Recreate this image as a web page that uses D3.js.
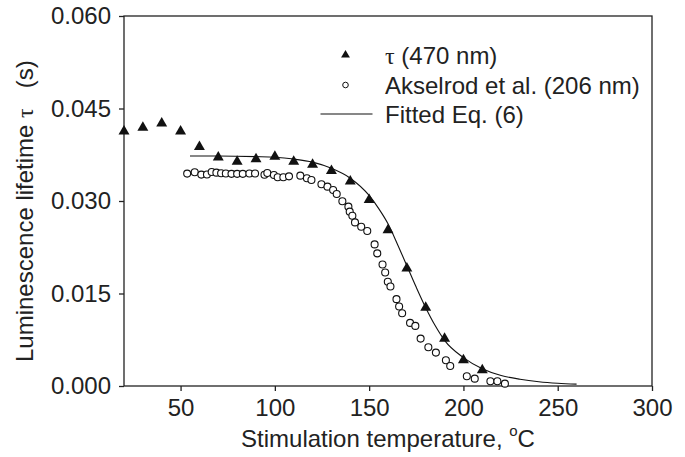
<!DOCTYPE html>
<html>
<head>
<meta charset="utf-8">
<script src="https://cdn.jsdelivr.net/npm/d3@7"></script>
<style>
  html, body { margin: 0; padding: 0; background: #fff; }
  svg { display: block; }
  text { font-family: "Liberation Sans", Arial, sans-serif; fill: #222; }
  .pre { white-space: pre; }
</style>
</head>
<body>
<svg id="chart" width="685" height="457"></svg>
<script>
// ---- data ----
const tempTau = [20, 30, 40, 50, 60, 70, 80, 90, 100, 110, 120, 130, 140, 150, 160, 170, 180, 190, 200, 210];
const tau470  = [0.0413, 0.0419, 0.0426, 0.0413, 0.0388, 0.0371, 0.0364, 0.0368, 0.0372, 0.0364, 0.0359, 0.0349, 0.0332, 0.0302, 0.0253, 0.0191, 0.0127, 0.0077, 0.0042, 0.0026];

const tempAks = [53.5, 57.5, 61, 64, 66.5, 69, 71.5, 74, 77, 80, 83, 86.5, 89.5, 94.5, 96, 99.5, 101.5, 104.5, 107.5, 113.5, 117,
                 119.4, 124.7, 127.9, 130.9, 132.8, 135.8, 139.0, 139.7, 141.1, 142.5, 145.8, 149.0, 152.9, 154.3, 157.1, 158.5,
                 159.9, 161.3, 164.5, 165.9, 167.5, 171.7, 174.5, 177.3, 181.4, 185.4, 190.7, 193.0, 201.8, 206.0, 214.3, 218.0, 222.0];
const tauAks  = [0.03444, 0.03466, 0.03428, 0.03430, 0.03470, 0.03460, 0.03450, 0.03445, 0.03440, 0.03440, 0.03440, 0.03445, 0.03445, 0.03425, 0.03455, 0.03422, 0.03384, 0.03384, 0.03400, 0.03411, 0.03368,
                 0.03341, 0.03271, 0.03233, 0.03179, 0.03114, 0.02995, 0.02908, 0.02827, 0.02762, 0.02653, 0.02583, 0.02513, 0.02296, 0.02150, 0.01971, 0.01841,
                 0.01690, 0.01614, 0.01408, 0.01289, 0.01180, 0.01023, 0.00975, 0.00769, 0.00628, 0.00542, 0.00417, 0.00325, 0.00157, 0.00119, 0.00076, 0.00076, 0.00038];

const tempFit = [55, 70, 90, 100, 110, 120, 130, 140, 150, 155, 160, 165, 170, 175, 180, 185, 190, 200, 210, 220, 230, 240, 250, 260];
const tauFit  = [0.0373, 0.0373, 0.0372, 0.0371, 0.0368, 0.0363, 0.0353, 0.0337, 0.0309, 0.0288, 0.0263, 0.0230, 0.0195, 0.0160, 0.0127, 0.0098, 0.0074, 0.0046, 0.0028, 0.0017, 0.0011, 0.0007, 0.00045, 0.0003];

const xTicks = [50, 100, 150, 200, 250, 300];
const yTicks = [0, 0.015, 0.030, 0.045, 0.060];
const legendLabels = ["(470 nm)", "Akselrod et al. (206 nm)", "Fitted Eq. (6)"];

// ---- layout ----
const svg = d3.select("#chart");
const L = 124, R = 652, T = 16, B = 386;
const x = d3.scaleLinear().domain([20, 300]).range([L, R]);
const y = d3.scaleLinear().domain([0, 0.060]).range([B, T]);
const FS = 24;
const SANS = '"Liberation Sans", Arial, sans-serif';
const SERIF = '"Liberation Serif", "Times New Roman", serif';

// frame
svg.append("rect").attr("x", L).attr("y", T).attr("width", R - L).attr("height", B - T)
  .attr("fill", "none").attr("stroke", "#222").attr("stroke-width", 1.3);

// axes
const xAxis = d3.axisBottom(x).tickValues(xTicks).tickSize(5).tickPadding(8).tickFormat(d3.format("d"));
const yAxis = d3.axisLeft(y).tickValues(yTicks).tickSize(5).tickPadding(8).tickFormat(d3.format(".3f"));
const gx = svg.append("g").attr("transform", `translate(0,${B})`).call(xAxis);
const gy = svg.append("g").attr("transform", `translate(${L},0)`).call(yAxis);
[gx, gy].forEach(g => {
  g.select(".domain").remove();
  g.selectAll(".tick line").attr("stroke", "#222").attr("stroke-width", 1.3);
  g.selectAll(".tick text").attr("font-size", FS).attr("fill", "#222").attr("font-family", SANS);
});

// fitted line
const line = d3.line().x((d, i) => x(tempFit[i])).y(d => y(d)).curve(d3.curveMonotoneX);
svg.append("path").datum(tauFit).attr("d", line).attr("fill", "none").attr("stroke", "#111").attr("stroke-width", 1.1);

// Akselrod circles
svg.append("g").selectAll("circle").data(tauAks).join("circle")
  .attr("cx", (d, i) => x(tempAks[i])).attr("cy", d => y(d)).attr("r", 3.5)
  .attr("fill", "#fff").attr("stroke", "#111").attr("stroke-width", 1.1);

// triangles
const tri = d3.symbol().type(d3.symbolTriangle).size(52);
svg.append("g").selectAll("path").data(tau470).join("path")
  .attr("d", tri).attr("transform", (d, i) => `translate(${x(tempTau[i])},${y(d)})`)
  .attr("fill", "#111");

// legend
const lgX = 345.5, txX = 385;
const rows = [55, 85, 114];
svg.append("path").attr("d", d3.symbol().type(d3.symbolTriangle).size(34))
  .attr("transform", `translate(${lgX},${rows[0]})`).attr("fill", "#111");
svg.append("circle").attr("cx", lgX).attr("cy", rows[1]).attr("r", 2.8)
  .attr("fill", "#fff").attr("stroke", "#111").attr("stroke-width", 1);
svg.append("line").attr("x1", 320.5).attr("x2", 372.5).attr("y1", rows[2]).attr("y2", rows[2])
  .attr("stroke", "#111").attr("stroke-width", 1.1);

const t0 = svg.append("text").attr("x", txX).attr("y", rows[0]).attr("dy", "0.36em").attr("font-size", FS);
t0.append("tspan").attr("font-family", SERIF).text("τ");
t0.append("tspan").text(" " + legendLabels[0]);
svg.append("text").attr("x", txX).attr("y", rows[1]).attr("dy", "0.36em").attr("font-size", FS).text(legendLabels[1]);
svg.append("text").attr("x", txX).attr("y", rows[2]).attr("dy", "0.36em").attr("font-size", FS).text(legendLabels[2]);

// axis titles
const xt = svg.append("text").attr("x", (L + R) / 2).attr("y", 447).attr("text-anchor", "middle").attr("font-size", FS);
xt.append("tspan").text("Stimulation temperature, ");
xt.append("tspan").attr("font-size", 15).attr("dy", "-0.75em").text("o");
xt.append("tspan").attr("dy", "0.47em").text("C");

const yt = svg.append("text").attr("class", "pre").attr("transform", `translate(33,362) rotate(-90)`)
  .attr("text-anchor", "start").attr("font-size", FS);
yt.append("tspan").text("Luminescence lifetime ");
yt.append("tspan").attr("font-family", SERIF).text("τ");
yt.append("tspan").text("   (s)");
</script>
</body>
</html>
